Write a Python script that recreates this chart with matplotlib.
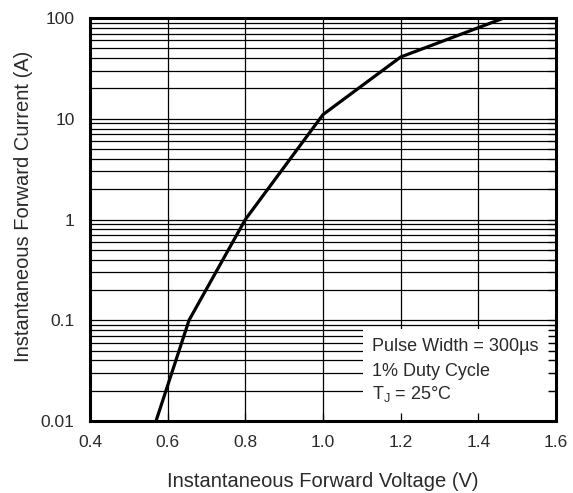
import numpy as np
import matplotlib.pyplot as plt
from matplotlib.ticker import LogLocator, FixedLocator, NullFormatter

# forward characteristic
voltage = [0.570, 0.655, 0.80, 1.00, 1.20, 1.466]
current = [0.01, 0.1, 1.0, 11.0, 41.0, 100.0]

x_ticks = [0.4, 0.6, 0.8, 1.0, 1.2, 1.4, 1.6]
x_labels = ['0.4', '0.6', '0.8', '1.0', '1.2', '1.4', '1.6']
y_ticks = [0.01, 0.1, 1, 10, 100]
y_labels = ['0.01', '0.1', '1', '10', '100']

note_lines = ['Pulse Width = 300\u00b5s', '1% Duty Cycle', 'T$_\\mathregular{J}$ = 25\u00b0C']

plt.rcParams['font.family'] = ['Liberation Sans', 'DejaVu Sans']

fig = plt.figure(figsize=(5.73, 4.93), dpi=100)
ax = fig.add_axes([90 / 573, 1 - 421 / 493, 466 / 573, 403 / 493])
ax.set_axisbelow(True)

ax.plot(voltage, current, color='black', linewidth=2.3, zorder=4)

ax.set_yscale('log')
ax.set_xlim(0.4, 1.6)
ax.set_ylim(0.01, 100)
ax.set_xticks(x_ticks)
ax.set_xticklabels(x_labels)
ax.set_yticks(y_ticks)
ax.set_yticklabels(y_labels)
ax.yaxis.set_minor_locator(LogLocator(base=10, subs=np.arange(2, 10)))
ax.yaxis.set_minor_formatter(NullFormatter())
ax.tick_params(axis='both', which='both', length=0, labelsize=12.5, colors='#2a2a2a')
ax.tick_params(axis='x', pad=10)
ax.tick_params(axis='y', pad=11)

ax.grid(True, which='major', axis='x', color='black', linewidth=0.9)
ax.grid(True, which='both', axis='y', color='black', linewidth=0.9)

for sp in ax.spines.values():
    sp.set_linewidth(2.2)
    sp.set_zorder(6)

ax.set_xlabel('Instantaneous Forward Voltage (V)', fontsize=14.5, color='#2a2a2a', labelpad=16)
ax.set_ylabel('Instantaneous Forward Current (A)', fontsize=14.5, color='#2a2a2a',
              labelpad=6, y=0.533)

# white note box that hides the grid
ax.add_patch(plt.Rectangle((0.585, 0.0), 0.40, 0.228, transform=ax.transAxes,
                           facecolor='white', edgecolor='none', zorder=3))
note_y = [0.186, 0.124, 0.067]
for line, yy in zip(note_lines, note_y):
    ax.text(0.605, yy, line, transform=ax.transAxes, fontsize=13,
            color='#2a2a2a', va='center', ha='left', zorder=5)

# tick stubs drawn over the box
tw = fig.add_axes(ax.get_position(), frameon=False)
tw.set_yscale('log')
tw.set_xlim(0.4, 1.6)
tw.set_ylim(0.01, 100)
tw.xaxis.set_major_locator(FixedLocator(x_ticks))
tw.yaxis.set_major_locator(FixedLocator(y_ticks))
tw.yaxis.set_minor_locator(LogLocator(base=10, subs=np.arange(2, 10)))
tw.tick_params(axis='both', which='both', direction='in', length=6, width=0.9,
               left=False, top=False, right=True, bottom=True,
               labelleft=False, labelbottom=False)
tw.yaxis.set_minor_formatter(NullFormatter())

fig.savefig('out.png', dpi=100)
